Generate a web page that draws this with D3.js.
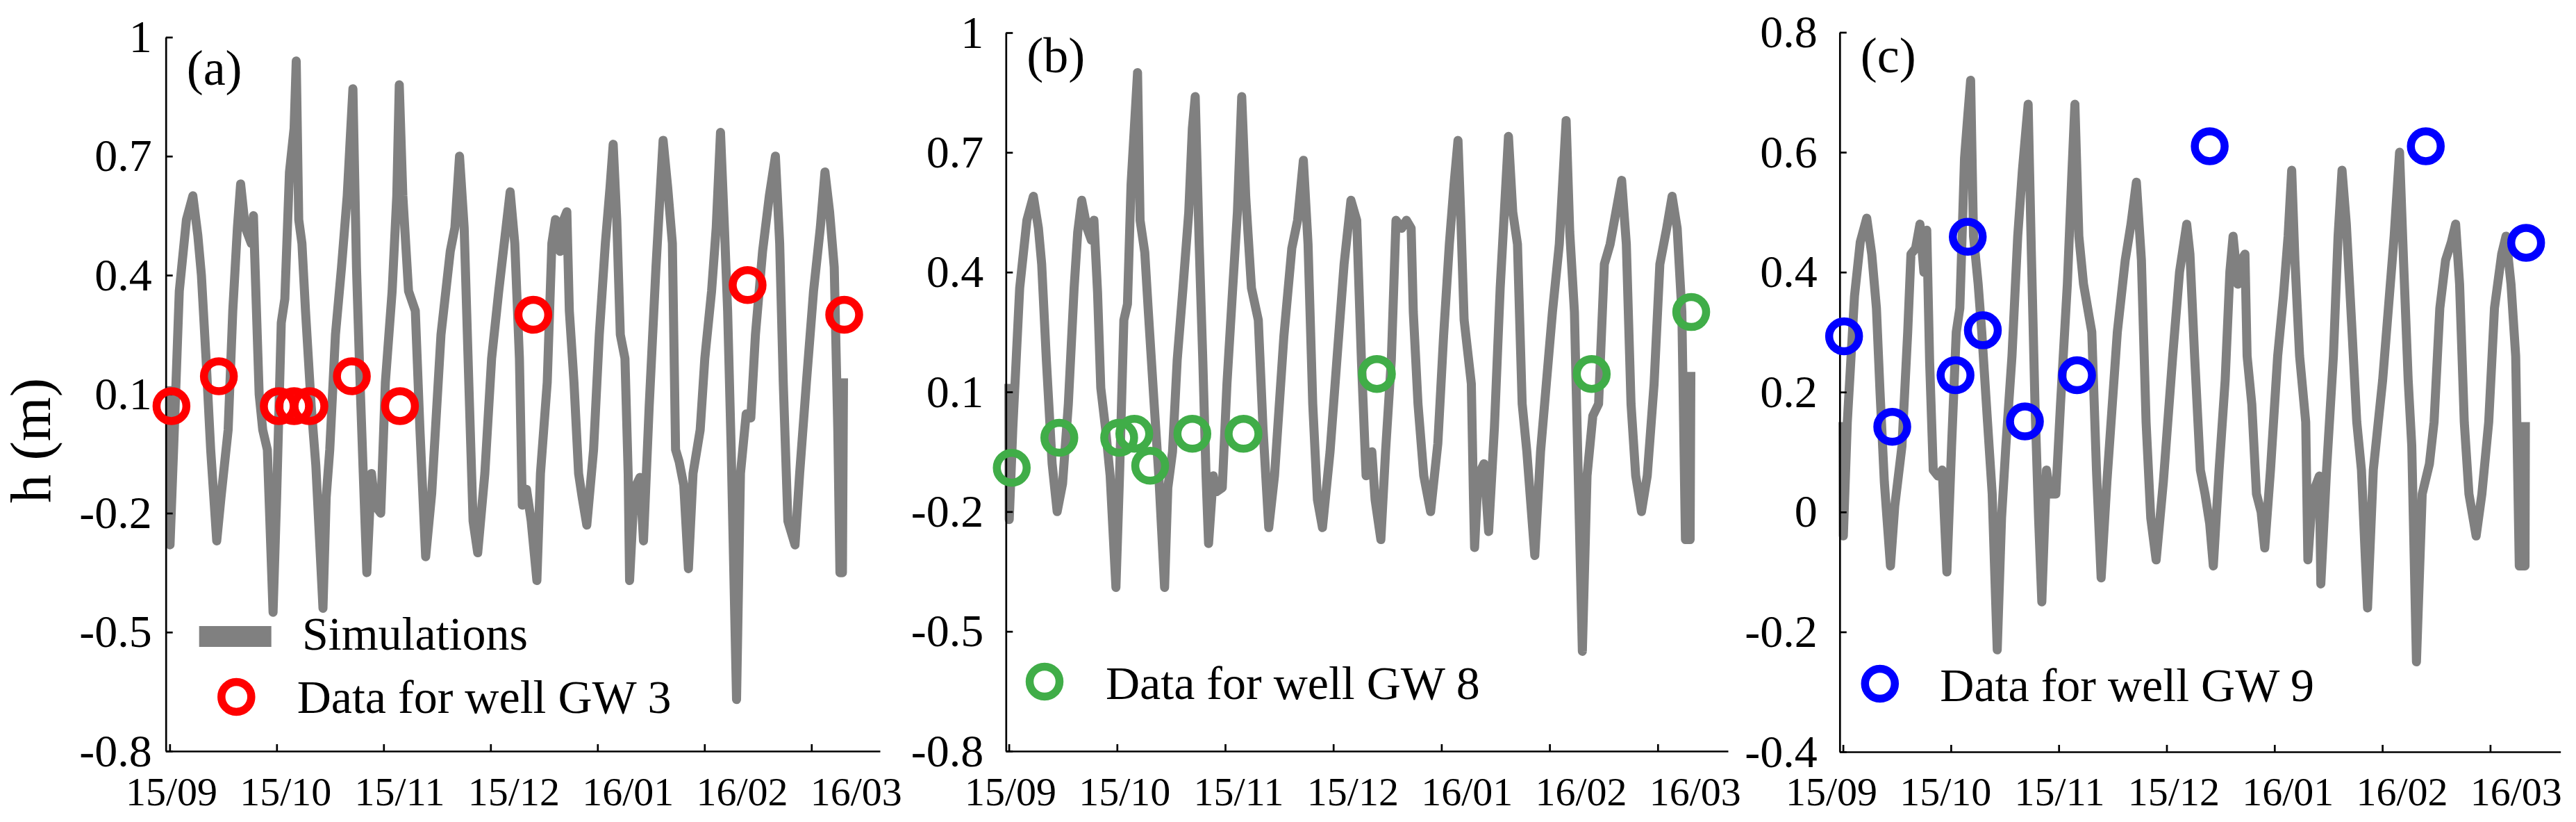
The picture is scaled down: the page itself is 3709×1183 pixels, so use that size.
<!DOCTYPE html>
<html>
<head>
<meta charset="utf-8">
<script src="https://cdn.jsdelivr.net/npm/d3@7"></script>
<style>
  body { margin: 0; background: #fff; }
  svg { display: block; }
  text { font-family: "Liberation Serif", "DejaVu Serif", "Times New Roman", serif; fill: #000; }
</style>
</head>
<body>
<svg id="chart"></svg>
<script>
// ── DATA ─────────────────────────────────────────────────────────────────
// x is in days after the 15/09 tick; month ticks every 30 days
const monthTickDays = [0, 30, 60, 90, 120, 150, 180];
const monthLabels = ["15/09", "15/10", "15/11", "15/12", "16/01", "16/02", "16/03"];

const yTicksAB = [-0.8, -0.5, -0.2, 0.1, 0.4, 0.7, 1];
const yTicksC = [-0.4, -0.2, 0, 0.2, 0.4, 0.6, 0.8];

// simulated head (middle of the ensemble band), panel (a)
const simDaysA = [0, 0.1, 1.1, 2.7, 4.7, 6.5, 7.9, 8.9, 10.2, 11.5,
  13.2, 14.4, 16.4, 17.7, 19.0, 19.9, 21.2, 22.9, 23.5, 24.2,
  25.1, 26.1, 27.4, 29.0, 30.0, 31.3, 32.3, 33.6, 34.9, 35.5,
  36.2, 37.1, 38.1, 39.7, 41.0, 43.0, 43.9, 44.9, 46.5, 48.2,
  49.8, 50.8, 51.4, 52.4, 53.4, 54.3, 55.3, 56.6, 57.6, 59.2,
  60.5, 62.4, 63.7, 64.4, 65.4, 67.0, 68.9, 70.2, 71.8, 73.5,
  76.1, 78.7, 80.0, 81.3, 82.6, 83.9, 85.1, 86.4, 88.4, 90.3,
  92.3, 95.5, 96.8, 98.1, 98.9, 100.1, 101.4, 103.0, 104.0, 105.9,
  107.2, 108.2, 109.5, 110.5, 111.4, 112.1, 113.4, 114.7, 115.7, 117.0,
  118.9, 120.5, 122.2, 123.5, 124.4, 125.4, 126.4, 127.7, 128.6, 129.0,
  130.3, 131.9, 132.9, 134.5, 136.4, 138.4, 139.7, 141.0, 141.9, 142.9,
  144.2, 145.5, 146.8, 148.8, 150.1, 152.0, 153.3, 154.5, 155.6, 156.5,
  157.5, 159.0, 160.1, 161.7, 163.0, 164.3, 166.3, 168.2, 169.9, 171.1,
  172.1, 173.4, 175.4, 176.7, 178.6, 180.6, 182.5, 183.8, 185.1, 186.4,
  187.4, 188.0, 188.7, 189.0];
const simValuesA = [0.12, -0.28, -0.04, 0.36, 0.54, 0.60, 0.50, 0.40, 0.19, -0.04,
  -0.27, -0.16, 0.01, 0.31, 0.52, 0.63, 0.52, 0.48, 0.55, 0.35,
  0.10, 0.01, -0.04, -0.45, -0.16, 0.28, 0.34, 0.66, 0.77, 0.94,
  0.54, 0.48, 0.31, 0.07, -0.08, -0.44, -0.16, -0.04, 0.25, 0.42,
  0.60, 0.77, 0.87, 0.42, 0.13, -0.10, -0.35, -0.10, -0.18, -0.20,
  0.13, 0.36, 0.60, 0.88, 0.60, 0.36, 0.31, 0.01, -0.31, -0.15,
  0.25, 0.46, 0.52, 0.70, 0.52, 0.13, -0.22, -0.30, -0.10, 0.19,
  0.36, 0.61, 0.48, 0.19, -0.18, -0.14, -0.22, -0.37, -0.10, 0.13,
  0.48, 0.54, 0.46, 0.54, 0.56, 0.31, 0.13, -0.10, -0.16, -0.23,
  -0.04, 0.25, 0.48, 0.62, 0.73, 0.54, 0.25, 0.19, -0.10, -0.37,
  -0.14, -0.11, -0.27, 0.07, 0.42, 0.74, 0.62, 0.48, -0.04, -0.07,
  -0.13, -0.34, -0.10, 0.01, 0.19, 0.36, 0.52, 0.76, 0.52, 0.31,
  -0.04, -0.67, -0.10, 0.05, 0.04, 0.25, 0.46, 0.60, 0.70, 0.48,
  0.13, -0.22, -0.28, -0.10, 0.13, 0.36, 0.52, 0.66, 0.56, 0.42,
  0.01, -0.35, -0.35, 0.14];

// panel (b)
const simDaysB = [0, 0.1, 1.1, 3.0, 5.0, 6.8, 8.2, 9.1, 10.4, 12.0,
  13.4, 14.9, 16.5, 18.1, 19.1, 20.2, 21.7, 22.9, 23.6, 24.6,
  25.5, 26.8, 28.1, 29.7, 30.7, 31.9, 32.9, 33.9, 34.8, 35.7,
  36.4, 37.7, 38.7, 40.3, 41.6, 43.2, 44.1, 45.4, 46.7, 48.3,
  49.9, 50.9, 51.7, 52.8, 53.8, 54.7, 55.4, 56.7, 57.6, 59.2,
  60.5, 62.1, 63.4, 64.6, 65.7, 67.3, 69.2, 70.5, 72.1, 73.7,
  76.3, 78.5, 80.1, 81.7, 83.0, 84.3, 85.6, 87.0, 89.1, 91.0,
  93.0, 94.9, 96.5, 97.8, 99.1, 100.7, 101.6, 103.2, 104.5, 106.1,
  107.4, 109.0, 110.3, 111.6, 112.2, 113.5, 115.1, 117.0, 119.0, 120.6,
  122.2, 123.5, 124.6, 125.4, 126.3, 128.3, 128.9, 129.2, 130.2, 131.8,
  133.1, 134.7, 136.3, 138.6, 139.8, 141.1, 142.4, 143.7, 145.9, 147.5,
  149.1, 150.8, 152.7, 154.6, 155.6, 156.9, 157.8, 159.1, 160.4, 162.0,
  163.6, 165.2, 166.8, 168.4, 170.0, 171.3, 172.6, 173.9, 175.5, 177.1,
  179.0, 180.6, 182.5, 184.0, 185.4, 186.7, 187.7, 189.0, 189.2];
const simValuesB = [0.12, -0.22, 0.01, 0.36, 0.53, 0.59, 0.51, 0.42, 0.18, -0.08,
  -0.20, -0.13, 0.07, 0.36, 0.50, 0.58, 0.51, 0.48, 0.53, 0.35,
  0.11, 0.01, -0.11, -0.39, -0.11, 0.28, 0.32, 0.62, 0.76, 0.90,
  0.53, 0.45, 0.30, 0.07, -0.11, -0.39, -0.14, -0.05, 0.18, 0.36,
  0.55, 0.76, 0.84, 0.47, 0.18, -0.11, -0.28, -0.11, -0.15, -0.14,
  0.12, 0.36, 0.55, 0.84, 0.59, 0.36, 0.28, 0.01, -0.24, -0.11,
  0.24, 0.46, 0.53, 0.68, 0.47, 0.07, -0.17, -0.24, -0.05, 0.18,
  0.42, 0.58, 0.53, 0.18, -0.11, -0.05, -0.17, -0.27, -0.05, 0.18,
  0.53, 0.51, 0.53, 0.51, 0.30, 0.07, -0.11, -0.20, -0.03, 0.24,
  0.47, 0.62, 0.73, 0.53, 0.28, 0.12, -0.17, -0.29, -0.11, -0.08,
  -0.25, 0.01, 0.36, 0.74, 0.55, 0.47, 0.07, -0.05, -0.31, -0.05,
  0.12, 0.30, 0.47, 0.78, 0.50, 0.30, -0.05, -0.55, -0.11, 0.04,
  0.07, 0.42, 0.47, 0.55, 0.63, 0.47, 0.07, -0.11, -0.20, -0.11,
  0.12, 0.42, 0.51, 0.59, 0.51, 0.30, -0.27, -0.27, 0.15];

// panel (c)
const simDaysC = [0, 0.1, 1.2, 3.2, 4.8, 6.6, 8.0, 9.3, 10.3, 11.5,
  13.2, 14.4, 16.4, 18.0, 18.9, 20.2, 21.4, 22.5, 23.3, 24.1,
  25.1, 26.4, 27.6, 28.9, 30.2, 31.5, 32.5, 33.8, 34.7, 35.5,
  36.3, 37.6, 38.6, 40.2, 41.5, 42.9, 44.1, 45.3, 47.0, 48.6,
  49.9, 51.5, 52.4, 53.4, 54.4, 55.3, 56.6, 57.6, 59.2, 60.5,
  62.4, 63.7, 64.5, 65.6, 66.9, 69.2, 70.5, 71.8, 73.4, 76.3,
  78.5, 80.1, 81.6, 83.0, 84.3, 85.6, 87.1, 89.1, 91.7, 93.6,
  95.6, 96.5, 97.8, 99.4, 100.7, 102.0, 103.0, 104.6, 106.3, 107.6,
  108.5, 109.8, 110.8, 111.8, 112.4, 113.7, 115.0, 116.3, 117.3, 118.9,
  120.9, 122.5, 123.8, 124.8, 125.7, 127.0, 128.7, 129.3, 130.6, 132.5,
  132.9, 134.5, 136.4, 137.7, 138.8, 140.0, 141.6, 142.9, 144.2, 145.9,
  147.5, 150.1, 151.7, 153.3, 154.8, 155.9, 157.2, 158.2, 159.5, 161.1,
  163.1, 164.4, 166.0, 167.6, 169.2, 170.4, 171.5, 172.8, 174.1, 176.1,
  177.7, 179.6, 181.2, 183.2, 184.4, 185.8, 187.1, 188.1, 189.7, 189.8];
const simValuesC = [0.15, -0.04, 0.15, 0.36, 0.45, 0.49, 0.43, 0.34, 0.20, 0.05,
  -0.09, 0.01, 0.11, 0.30, 0.43, 0.44, 0.48, 0.40, 0.47, 0.25,
  0.07, 0.06, 0.07, -0.10, 0.11, 0.30, 0.34, 0.59, 0.66, 0.72,
  0.46, 0.38, 0.30, 0.15, 0.03, -0.23, -0.01, 0.11, 0.26, 0.46,
  0.57, 0.68, 0.43, 0.18, -0.01, -0.15, 0.07, 0.03, 0.03, 0.18,
  0.38, 0.57, 0.68, 0.46, 0.38, 0.30, 0.07, -0.11, 0.05, 0.30,
  0.42, 0.48, 0.55, 0.42, 0.15, -0.01, -0.08, 0.05, 0.26, 0.40,
  0.48, 0.43, 0.26, 0.07, 0.03, -0.02, -0.09, 0.07, 0.22, 0.40,
  0.46, 0.38, 0.42, 0.43, 0.26, 0.18, 0.03, 0.00, -0.06, 0.07,
  0.26, 0.36, 0.46, 0.57, 0.42, 0.26, 0.15, -0.08, 0.03, 0.06,
  -0.12, 0.07, 0.26, 0.46, 0.57, 0.48, 0.30, 0.15, 0.07, -0.16,
  0.07, 0.22, 0.34, 0.46, 0.60, 0.42, 0.22, 0.11, -0.25, 0.03,
  0.08, 0.15, 0.34, 0.42, 0.45, 0.48, 0.38, 0.15, 0.03, -0.04,
  0.03, 0.15, 0.34, 0.43, 0.46, 0.38, 0.26, -0.09, -0.09, 0.15];

// observed heads at the wells
const wellDaysA = [0.5, 13.8, 30.6, 34.9, 39.2, 51.1, 64.6, 102.0, 162.1, 189.2];
const wellValuesA = [0.07, 0.145, 0.07, 0.07, 0.07, 0.145, 0.07, 0.30, 0.375, 0.30];
const wellDaysB = [0.8, 14.0, 30.6, 34.8, 39.2, 50.9, 65.1, 102.1, 161.7, 189.3];
const wellValuesB = [-0.09, -0.015, -0.015, -0.005, -0.085, -0.005, -0.005, 0.145, 0.145, 0.30];
const wellDaysC = [0.3, 13.7, 31.3, 34.7, 38.9, 50.6, 65.1, 102.0, 162.1, 190.0];
const wellValuesC = [0.293, 0.142, 0.228, 0.459, 0.303, 0.151, 0.228, 0.61, 0.61, 0.449];

// ── LAYOUT ───────────────────────────────────────────────────────────────
const width = 3709, height = 1183;
const svg = d3.select("#chart").attr("width", width).attr("height", height)
  .attr("viewBox", `0 0 ${width} ${height}`);

const gray = "#808080";
const axisStroke = 2.7;

const panels = [
  {
    tag: "(a)", simDays: simDaysA, simValues: simValuesA,
    wellDays: wellDaysA, wellValues: wellValuesA, color: "#ff0000", well: "Data for well GW 3",
    yTicks: yTicksAB, yDomain: [-0.8, 1],
    axisX: 238.7, axisEnd: 1267, tick0: 244.3, step: 154.0, yTop: 53.5, yBottom: 1081,
    labelGap: 20, labelStart: 8.3, tagY: 122, showSim: true,
    legendCircle: [101.6, 1003], legendText: [189, 1026]
  },
  {
    tag: "(b)", simDays: simDaysB, simValues: simValuesB,
    wellDays: wellDaysB, wellValues: wellValuesB, color: "#40ad48", well: "Data for well GW 8",
    yTicks: yTicksAB, yDomain: [-0.8, 1],
    axisX: 1448.3, axisEnd: 2488, tick0: 1452.6, step: 155.7, yTop: 47, yBottom: 1081,
    labelGap: 32, labelStart: 6.7, tagY: 104, showSim: false,
    legendCircle: [55.7, 981], legendText: [143.7, 1006]
  },
  {
    tag: "(c)", simDays: simDaysC, simValues: simValuesC,
    wellDays: wellDaysC, wellValues: wellValuesC, color: "#0000ff", well: "Data for well GW 9",
    yTicks: yTicksC, yDomain: [-0.4, 0.8],
    axisX: 2648.8, axisEnd: 3686.7, tick0: 2653.6, step: 155.3, yTop: 46.5, yBottom: 1082,
    labelGap: 32, labelStart: -11.8, tagY: 104, showSim: false,
    legendCircle: [58, 984], legendText: [144.5, 1009]
  }
];

const labelStep = 164.3;

panels.forEach((p) => {
  const g = svg.append("g");

  // x scale: 30 days per month tick, stretched out to the axis ends
  const base = d3.scaleLinear()
    .domain([0, 180])
    .range([p.tick0, p.tick0 + 6 * p.step]);
  const xScale = d3.scaleLinear()
    .domain([base.invert(p.axisX), base.invert(p.axisEnd)])
    .range([p.axisX, p.axisEnd]);
  const yScale = d3.scaleLinear().domain(p.yDomain).range([p.yBottom, p.yTop]);

  // simulation band (thick stroke stands in for the ensemble spread)
  const line = d3.line()
    .x((d) => xScale(d[0]))
    .y((d) => yScale(d[1]));
  g.append("path")
    .datum(d3.zip(p.simDays, p.simValues))
    .attr("d", line)
    .attr("fill", "none")
    .attr("stroke", gray)
    .attr("stroke-width", 13)
    .attr("stroke-linejoin", "round");

  // Y axis, ticks pointing inside
  const yAxis = g.append("g")
    .attr("transform", `translate(${p.axisX},0)`)
    .call(d3.axisLeft(yScale)
      .tickValues(p.yTicks)
      .tickSizeInner(-10)
      .tickSizeOuter(0)
      .tickPadding(p.labelGap)
      .tickFormat((d) => String(d)));
  yAxis.attr("font-size", 66).attr("font-family", null);
  yAxis.select(".domain").attr("stroke-width", axisStroke).attr("stroke", "#000");
  yAxis.selectAll(".tick line").attr("stroke-width", axisStroke).attr("stroke", "#000");

  // X axis, ticks only; labels placed below
  const xAxis = g.append("g")
    .attr("transform", `translate(0,${p.yBottom})`)
    .call(d3.axisBottom(xScale)
      .tickValues(monthTickDays)
      .tickSizeInner(-10)
      .tickSizeOuter(0)
      .tickFormat(""));
  xAxis.select(".domain").attr("stroke-width", axisStroke).attr("stroke", "#000");
  xAxis.selectAll(".tick line").attr("stroke-width", axisStroke).attr("stroke", "#000");

  g.append("g")
    .selectAll("text")
    .data(monthLabels)
    .join("text")
    .attr("x", (d, i) => p.axisX + p.labelStart + i * labelStep)
    .attr("y", 1159)
    .attr("text-anchor", "middle")
    .attr("font-size", 58)
    .text((d) => d);

  // well observations
  g.append("g")
    .selectAll("circle")
    .data(d3.zip(p.wellDays, p.wellValues))
    .join("circle")
    .attr("cx", (d) => xScale(d[0]))
    .attr("cy", (d) => yScale(d[1]))
    .attr("r", 21.5)
    .attr("fill", "none")
    .attr("stroke", p.color)
    .attr("stroke-width", 11.5);

  // panel tag
  g.append("text")
    .attr("x", p.axisX + 30)
    .attr("y", p.tagY)
    .attr("font-size", 72)
    .text(p.tag);

  // legend
  if (p.showSim) {
    g.append("rect")
      .attr("x", p.axisX + 48)
      .attr("y", 901)
      .attr("width", 104)
      .attr("height", 30)
      .attr("fill", gray);
    g.append("text")
      .attr("x", p.axisX + 196.3)
      .attr("y", 935)
      .attr("font-size", 68)
      .text("Simulations");
  }
  g.append("circle")
    .attr("cx", p.axisX + p.legendCircle[0])
    .attr("cy", p.legendCircle[1])
    .attr("r", 21.5)
    .attr("fill", "none")
    .attr("stroke", p.color)
    .attr("stroke-width", 11.5);
  g.append("text")
    .attr("x", p.axisX + p.legendText[0])
    .attr("y", p.legendText[1])
    .attr("font-size", 68)
    .text(p.well);
});

// y axis title
svg.append("text")
  .attr("transform", "translate(72,634) rotate(-90)")
  .attr("text-anchor", "middle")
  .attr("font-size", 82)
  .text("h (m)");
</script>
</body>
</html>
